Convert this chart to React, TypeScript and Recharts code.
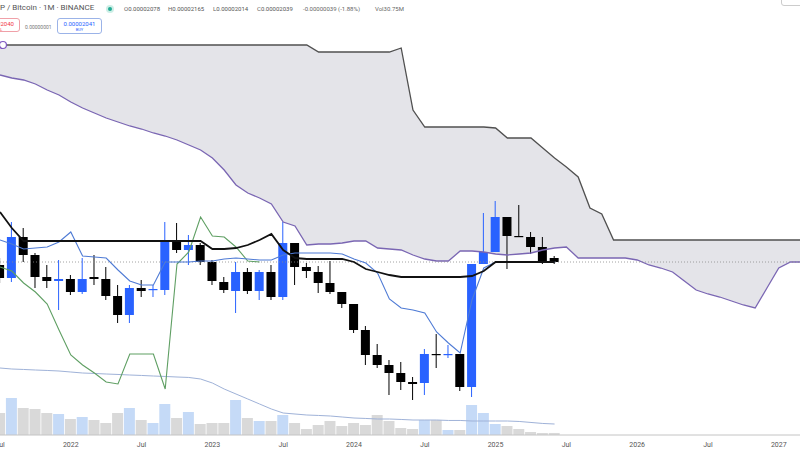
import {
  ComposedChart,
  Area,
  Bar,
  Line,
  XAxis,
  YAxis,
  Cell,
  ReferenceLine,
  ReferenceDot,
} from 'recharts';

// monthly candles, Jul 2021 .. Jun 2025 (prices in sats)
const OPEN = [
  2010, 1880, 2290, 2110, 1890, 1850, 1870, 1740, 1890, 1870,
  1700, 1510, 1780, 1760, 1760, 2250, 2160, 2210, 2040, 1840,
  1750, 1940, 1750, 1940, 1690, 2230, 1990, 1940, 1830, 1740,
  1620, 1360, 1110, 1010, 930, 840, 830, 1120, 1110, 1120,
  790, 2020, 2140, 2490, 2300, 2290, 2190, 2080,
];
const HIGH = [
  2080, 2440, 2380, 2130, 2010, 2060, 1910, 2080, 2110, 1990,
  1810, 1810, 1860, 1810, 2440, 2430, 2310, 2230, 2060, 1890,
  2040, 1980, 1960, 2010, 2440, 2230, 2030, 2000, 2050, 1740,
  1620, 1400, 1220, 1060, 1040, 890, 1170, 1320, 1210, 1120,
  2020, 2530, 2650, 2490, 2610, 2340, 2290, 2100,
];
const LOW = [
  1830, 1840, 2040, 1780, 1780, 1560, 1710, 1720, 1810, 1660,
  1430, 1430, 1690, 1690, 1710, 2130, 2010, 2010, 1810, 1730,
  1530, 1720, 1660, 1660, 1660, 1810, 1880, 1730, 1720, 1580,
  1330, 1010, 980, 710, 760, 660, 710, 980, 1080, 750,
  690, 2020, 2140, 1970, 2290, 2120, 2020, 2020,
];
const CLOSE = [
  1880, 2290, 2110, 1890, 1850, 1870, 1740, 1870, 1870, 1700,
  1510, 1780, 1750, 1770, 2260, 2160, 2210, 2040, 1850, 1760,
  1940, 1750, 1940, 1690, 2230, 1990, 1950, 1830, 1740, 1620,
  1360, 1110, 1010, 930, 840, 820, 1120, 1110, 1120, 790,
  2020, 2140, 2490, 2300, 2290, 2190, 2050, 2040,
];
// volume in millions
const VOLUME = [
  330, 555, 405, 390, 330, 315, 240, 270, 225, 180,
  330, 405, 225, 180, 465, 255, 345, 165, 180, 180,
  525, 255, 210, 210, 300, 180, 90, 150, 210, 135,
  180, 150, 300, 210, 105, 90, 225, 225, 75, 75,
  450, 330, 165, 135, 90, 45, 30, 30.75,
];
const VOL_MA = [
  1005, 990, 983, 975, 968, 960, 945, 930, 923, 915,
  908, 900, 893, 885, 878, 870, 863, 840, 780, 690,
  615, 540, 465, 390, 330, 315, 300, 293, 285, 270,
  255, 248, 240, 240, 233, 225, 225, 225, 218, 218,
  210, 210, 210, 210, 203, 188, 173, 165,
];
// ichimoku
const TENKAN = [
  2260, 2220, 2170, 2180, 2190, 2240, 2340, 2100, 2090, 2080,
  1960, 1850, 1810, 1810, 2040, 2040, 2040, 2050, 2050, 2070,
  2080, 2070, 2060, 2060, 2110, 2130, 2130, 2130, 2130, 2120,
  2070, 2030, 1930, 1670, 1580, 1560, 1530, 1340, 1230, 1130,
  1660, 1980, 2040, 2040, 2040, 2040, 2040, 2040,
];
const KIJUN = [
  2540, 2380, 2250, 2250, 2250, 2250, 2250, 2250, 2250, 2250,
  2250, 2250, 2250, 2250, 2250, 2250, 2250, 2250, 2170, 2170,
  2180, 2210, 2260, 2320, 2160, 2080, 2070, 2070, 2070, 2070,
  2040, 1970, 1940, 1910, 1890, 1890, 1890, 1890, 1890, 1890,
  1900, 1950, 2040, 2040, 2040, 2040, 2040, 2040,
];
const CHIKOU = [
  1990, 1950, 1830, 1740, 1620, 1360, 1110, 1010, 930, 840,
  820, 1120, 1120, 1120, 770, 2020, 2140, 2490, 2300, 2290,
  2190, 2050, 2040,
];
const SPAN_A = [
  3910, 3880, 3860, 3820, 3760, 3710, 3640, 3580, 3530, 3480,
  3440, 3400, 3370, 3330, 3300, 3260, 3210, 3160, 3080, 2960,
  2810, 2730, 2680, 2620, 2440, 2400, 2210, 2220, 2220, 2230,
  2250, 2250, 2180, 2170, 2160, 2110, 2070, 2050, 2050, 2150,
  2150, 2140, 2120, 2110, 2120, 2130, 2160, 2180, 2190, 2080,
  2080, 2080, 2080, 2080, 2060, 2010, 1980, 1940, 1850, 1760,
  1720, 1690, 1650, 1610, 1580, 1780, 1980, 2040, 2040,
];
const SPAN_B = [
  4210, 4210, 4210, 4210, 4210, 4210, 4210, 4210, 4210, 4210,
  4210, 4210, 4210, 4210, 4210, 4210, 4210, 4210, 4210, 4210,
  4210, 4210, 4210, 4210, 4210, 4210, 4210, 4140, 4140, 4140,
  4140, 4140, 4140, 4140, 4180, 3560, 3390, 3390, 3390, 3390,
  3390, 3390, 3380, 3280, 3280, 3280, 3180, 3080, 2990, 2890,
  2580, 2520, 2260, 2260, 2260, 2260, 2260, 2260, 2260, 2260,
  2260, 2260, 2260, 2260, 2260, 2260, 2260, 2260, 2260,
];

const TICK_IDX = [0, 6, 12, 18, 24, 30, 36, 42, 48, 54, 60, 66];
const TICK_LABELS = ['Jul', '2022', 'Jul', '2023', 'Jul', '2024', 'Jul', '2025', 'Jul', '2026', 'Jul', '2027'];

const LAST_PRICE = 2040;

const BLUE = '#2962ff';
const BLACK = '#000000';

const rows = SPAN_A.map((a, i) => ({
  t: i,
  cloud: [a, SPAN_B[i]],
  spanA: a,
  spanB: SPAN_B[i],
  range: i < OPEN.length ? [LOW[i], HIGH[i]] : null,
  open: OPEN[i],
  high: HIGH[i],
  low: LOW[i],
  close: CLOSE[i],
  up: CLOSE[i] >= OPEN[i],
  vol: VOLUME[i],
  volMA: VOL_MA[i],
  tenkan: TENKAN[i],
  kijun: KIJUN[i],
  chikou: CHIKOU[i],
}));

function Candle(props: any) {
  const { x, y, width, height, payload } = props;
  if (!payload || payload.open == null || height == null) return null;
  const { open, close, high, low } = payload;
  const color = close >= open ? BLUE : BLACK;
  const ratio = high === low ? 0 : height / (high - low);
  const yOf = (v: number) => y + (high - v) * ratio;
  const top = yOf(Math.max(open, close));
  const bottom = yOf(Math.min(open, close));
  const cx = x + width / 2;
  return (
    <g>
      <line x1={cx} x2={cx} y1={y} y2={y + height} stroke={color} strokeWidth={1} />
      <rect x={x} y={top} width={width} height={Math.max(1.2, bottom - top)} fill={color} />
    </g>
  );
}

const font = 'Roboto, "Open Sans", sans-serif';

function Header() {
  const ohlc = [
    ['O', '0.00002078', 124],
    ['H', '0.00002165', 168],
    ['L', '0.00002014', 213],
    ['C', '0.00002039', 257],
  ];
  return (
    <>
      <div style={{ position: 'absolute', left: 0, top: 3, fontSize: 8, color: '#555', fontFamily: font, whiteSpace: 'nowrap' }}>
        P / Bitcoin · 1M · BINANCE
      </div>
      <div style={{ position: 'absolute', left: 106, top: 5, width: 8, height: 8, borderRadius: 4, background: '#cdeee6' }}>
        <div style={{ position: 'absolute', left: 2, top: 2, width: 4, height: 4, borderRadius: 2, background: '#22ab94' }} />
      </div>
      {ohlc.map(([k, v, left]) => (
        <div key={k as string} style={{ position: 'absolute', left: left as number, top: 5, fontSize: 6, color: '#666', fontFamily: font, whiteSpace: 'nowrap' }}>
          {k}
          <span style={{ color: '#555' }}>{v}</span>
        </div>
      ))}
      <div style={{ position: 'absolute', left: 303, top: 5, fontSize: 6, color: '#666', fontFamily: font, whiteSpace: 'nowrap' }}>
        -0.00000039 (-1.88%)
      </div>
      <div style={{ position: 'absolute', left: 375, top: 5, fontSize: 6, color: '#666', fontFamily: font, whiteSpace: 'nowrap' }}>
        Vol30.75M
      </div>

      <div style={{ position: 'absolute', left: -24, top: 18, width: 44, height: 14, border: '1px solid #f0a0a8', borderRadius: 3, fontFamily: font, textAlign: 'center', color: '#f23645', boxSizing: 'border-box' }}>
        <div style={{ fontSize: 6, lineHeight: '7px', marginTop: 1 }}>0.00002040</div>
        <div style={{ fontSize: 4, lineHeight: '5px' }}>SELL</div>
      </div>
      <div style={{ position: 'absolute', left: 25, top: 24, fontSize: 5, color: '#777', fontFamily: font }}>0.00000001</div>
      <div style={{ position: 'absolute', left: 57, top: 18, width: 45, height: 16, border: '1px solid #9bb3e8', borderRadius: 3, fontFamily: font, textAlign: 'center', color: BLUE, boxSizing: 'border-box' }}>
        <div style={{ fontSize: 6, lineHeight: '7px', marginTop: 1 }}>0.00002041</div>
        <div style={{ fontSize: 4, lineHeight: '5px' }}>BUY</div>
      </div>
      <div style={{ position: 'absolute', left: 781, top: -10, width: 30, height: 14, border: '1px solid #ccc', borderRadius: 3 }} />
    </>
  );
}

export default function App() {
  return (
    <div style={{ position: 'absolute', left: 0, top: 0, width: 800, height: 450, overflow: 'hidden', background: '#fff' }}>
      <ComposedChart width={800} height={450} data={rows} margin={{ top: 0, right: 0, bottom: 0, left: 0 }}>
        <XAxis
          xAxisId="p"
          dataKey="t"
          type="number"
          domain={[0, 67.8]}
          allowDataOverflow
          ticks={TICK_IDX}
          interval={0}
          tickFormatter={(v: number) => TICK_LABELS[TICK_IDX.indexOf(v)] ?? ''}
          height={15}
          tickLine={false}
          tickMargin={1}
          axisLine={{ stroke: '#c4c4c4' }}
          tick={{ fontSize: 7, fill: '#555', fontFamily: font }}
        />
        <XAxis xAxisId="v" dataKey="t" type="number" domain={[0, 67.8]} allowDataOverflow hide />
        <YAxis yAxisId="p" hide domain={[310, 4660]} allowDataOverflow />
        <YAxis yAxisId="v" hide domain={[0, 6525]} allowDataOverflow />

        <Area
          xAxisId="p"
          yAxisId="p"
          dataKey="cloud"
          type="linear"
          stroke="none"
          fill="#e4e4e9"
          fillOpacity={1}
          activeDot={false}
          isAnimationActive={false}
        />
        <Line xAxisId="p" yAxisId="p" dataKey="spanB" type="linear" stroke="#505050" strokeWidth={1.3} dot={false} activeDot={false} isAnimationActive={false} />
        <Line xAxisId="p" yAxisId="p" dataKey="spanA" type="linear" stroke="#7a66b3" strokeWidth={1.3} dot={false} activeDot={false} isAnimationActive={false} />

        <Bar xAxisId="v" yAxisId="v" dataKey="vol" barSize={11} activeBar={false} isAnimationActive={false}>
          {rows.map((r) => (
            <Cell key={r.t} fill={r.up ? '#c5daf7' : '#d9d9d9'} />
          ))}
        </Bar>
        <Line xAxisId="v" yAxisId="v" dataKey="volMA" type="linear" stroke="#9fb2d8" strokeWidth={1} dot={false} activeDot={false} isAnimationActive={false} />

        <ReferenceLine xAxisId="p" yAxisId="p" y={LAST_PRICE} stroke="#8a8a8a" strokeDasharray="1 2" strokeWidth={0.8} />

        <Line xAxisId="p" yAxisId="p" dataKey="chikou" type="linear" stroke="#5f9f63" strokeWidth={1.1} dot={false} activeDot={false} isAnimationActive={false} />
        <Line xAxisId="p" yAxisId="p" dataKey="tenkan" type="linear" stroke="#4f7bd5" strokeWidth={1.1} dot={false} activeDot={false} isAnimationActive={false} />
        <Line xAxisId="p" yAxisId="p" dataKey="kijun" type="linear" stroke="#111111" strokeWidth={1.8} dot={false} activeDot={false} isAnimationActive={false} />

        <Bar xAxisId="p" yAxisId="p" dataKey="range" barSize={9} shape={<Candle />} activeBar={false} isAnimationActive={false} />

        <ReferenceDot xAxisId="p" yAxisId="p" x={0.25} y={4210} r={3.5} fill="#ffffff" stroke="#7e57c2" strokeWidth={1.2} ifOverflow="visible" />
      </ComposedChart>
      <Header />
    </div>
  );
}
